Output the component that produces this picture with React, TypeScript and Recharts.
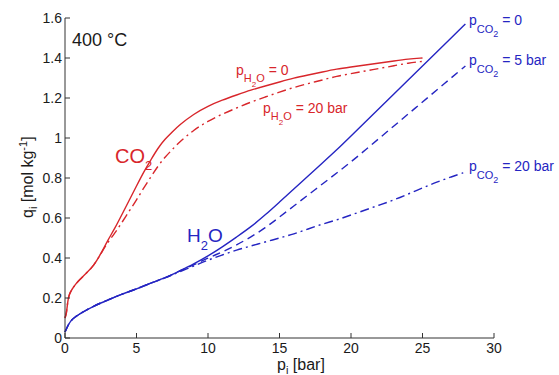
import React from "react";
import { LineChart, Line, XAxis, YAxis } from "recharts";

const RED = "#d8262b";
const BLUE = "#2525c2";
const AXIS = "#333333";
const INK = "#1a1a1a";
const FONT = "'Liberation Sans', Arial, Helvetica, sans-serif";

const xTicks = [0, 5, 10, 15, 20, 25, 30];
const yTicks = [0, 0.2, 0.4, 0.6, 0.8, 1, 1.2, 1.4, 1.6];

// CO2 uptake, p_H2O = 0 (solid) and p_H2O = 20 bar (dash-dot)
const co2Pressure = [0, 0.1, 0.2, 0.3, 0.5, 0.75, 1, 1.5, 2, 2.5, 3, 3.5, 4, 4.5, 5, 5.5, 6, 6.5, 7, 7.5, 8, 9, 10, 11, 12, 13, 14, 15, 16, 17, 18, 19, 20, 21, 22, 23, 24, 25];
const co2Dry = [0.1, 0.12, 0.19, 0.22, 0.245, 0.27, 0.29, 0.325, 0.36, 0.42, 0.49, 0.55, 0.62, 0.69, 0.76, 0.83, 0.89, 0.95, 0.995, 1.03, 1.065, 1.12, 1.16, 1.19, 1.215, 1.24, 1.26, 1.28, 1.3, 1.315, 1.33, 1.345, 1.355, 1.365, 1.375, 1.385, 1.395, 1.4];
const co2Wet = [0.1, 0.12, 0.19, 0.22, 0.245, 0.27, 0.29, 0.325, 0.36, 0.42, 0.48, 0.525, 0.58, 0.635, 0.69, 0.75, 0.805, 0.86, 0.905, 0.942, 0.98, 1.04, 1.085, 1.12, 1.15, 1.18, 1.205, 1.23, 1.253, 1.272, 1.29, 1.309, 1.322, 1.335, 1.348, 1.361, 1.375, 1.383];

// H2O uptake, p_CO2 = 0 / 5 bar / 20 bar
const h2oPressure = [0, 0.25, 0.5, 1, 2, 3, 4, 5, 6, 7, 8, 9, 10, 11, 12, 13, 14, 15, 16, 17, 18, 19, 20, 21, 22, 23, 24, 25, 26, 27, 28];
const h2oDry = [0.03, 0.07, 0.095, 0.12, 0.16, 0.19, 0.22, 0.245, 0.275, 0.3, 0.335, 0.37, 0.41, 0.455, 0.505, 0.555, 0.615, 0.68, 0.745, 0.81, 0.875, 0.94, 1.01, 1.08, 1.15, 1.22, 1.29, 1.36, 1.43, 1.5, 1.57];
const h2oCo2Five = [0.03, 0.07, 0.095, 0.12, 0.16, 0.19, 0.22, 0.245, 0.275, 0.3, 0.335, 0.365, 0.4, 0.43, 0.465, 0.505, 0.55, 0.605, 0.66, 0.715, 0.77, 0.825, 0.88, 0.94, 1.0, 1.06, 1.12, 1.18, 1.24, 1.3, 1.36];
const h2oCo2Twenty = [0.03, 0.07, 0.095, 0.12, 0.16, 0.19, 0.22, 0.245, 0.275, 0.3, 0.33, 0.36, 0.39, 0.415, 0.44, 0.46, 0.48, 0.5, 0.52, 0.545, 0.57, 0.59, 0.615, 0.64, 0.665, 0.69, 0.72, 0.75, 0.78, 0.805, 0.83];

const rows = (xs: number[], ys: number[]) => xs.map((p, i) => ({ p, q: ys[i] }));

const DASH = "8 5";
const DASH_DOT = "9 4 2 4";

// ticks point into the plot box, like the matlab original
function BottomTick({ x, y, payload }: any) {
  return (
    <g>
      <line x1={x} x2={x} y1={y} y2={y - 5} stroke={AXIS} />
      <text x={x} y={y + 15} textAnchor="middle" fontSize={14} fill={INK} fontFamily={FONT}>
        {payload.value}
      </text>
    </g>
  );
}

function LeftTick({ x, y, payload }: any) {
  return (
    <g>
      <line x1={x} x2={x + 5} y1={y} y2={y} stroke={AXIS} />
      <text x={x - 3} y={y + 5} textAnchor="end" fontSize={14} fill={INK} fontFamily={FONT}>
        {payload.value}
      </text>
    </g>
  );
}

function TopTick({ x, y }: any) {
  return <line x1={x} x2={x} y1={y} y2={y + 5} stroke={AXIS} />;
}

function RightTick({ x, y }: any) {
  return <line x1={x} x2={x - 5} y1={y} y2={y} stroke={AXIS} />;
}

function PressureLabel({ x, y, color, gas, rest }: any) {
  const sub = gas === "H2O" ? (
    <>
      <tspan dy={7} fontSize={11}>H</tspan>
      <tspan dy={5} fontSize={8}>2</tspan>
      <tspan dy={-5} fontSize={11}>O</tspan>
      <tspan dy={-7} fontSize={14}>{" " + rest}</tspan>
    </>
  ) : (
    <>
      <tspan dy={8} fontSize={11}>CO</tspan>
      <tspan dy={4} fontSize={9}>2</tspan>
      <tspan dy={-12} fontSize={14}>{" " + rest}</tspan>
    </>
  );
  return (
    <text x={x} y={y} fontSize={14} fill={color}>
      p{sub}
    </text>
  );
}

export default function App() {
  return (
    <div style={{ position: "absolute", left: 0, top: 0, width: 559, height: 375, background: "#fff" }}>
      <LineChart width={559} height={375} data={rows(co2Pressure, co2Dry)} margin={{ top: 18, right: 65, bottom: 17, left: 25 }}>
        <XAxis
          dataKey="p"
          type="number"
          domain={[0, 30]}
          ticks={xTicks}
          height={20}
          tickSize={0}
          tickMargin={0}
          tickLine={false}
          axisLine={{ stroke: AXIS }}
          tick={<BottomTick />}
          interval={0}
        />
        <XAxis
          xAxisId="top"
          orientation="top"
          dataKey="p"
          type="number"
          domain={[0, 30]}
          ticks={xTicks}
          height={0}
          tickSize={0}
          tickMargin={0}
          tickLine={false}
          axisLine={{ stroke: AXIS }}
          tick={<TopTick />}
          interval={0}
        />
        <YAxis
          type="number"
          domain={[0, 1.6]}
          ticks={yTicks}
          width={40}
          tickSize={0}
          tickMargin={0}
          tickLine={false}
          axisLine={{ stroke: AXIS }}
          tick={<LeftTick />}
          interval={0}
        />
        <YAxis
          yAxisId="right"
          orientation="right"
          type="number"
          domain={[0, 1.6]}
          ticks={yTicks}
          width={0}
          tickSize={0}
          tickMargin={0}
          tickLine={false}
          axisLine={{ stroke: AXIS }}
          tick={<RightTick />}
          interval={0}
        />
        <Line data={rows(h2oPressure, h2oCo2Twenty)} dataKey="q" type="basis" stroke={BLUE} strokeWidth={1.4} strokeDasharray={DASH_DOT} dot={false} isAnimationActive={false} />
        <Line data={rows(h2oPressure, h2oCo2Five)} dataKey="q" type="basis" stroke={BLUE} strokeWidth={1.4} strokeDasharray={DASH} dot={false} isAnimationActive={false} />
        <Line data={rows(h2oPressure, h2oDry)} dataKey="q" type="basis" stroke={BLUE} strokeWidth={1.4} dot={false} isAnimationActive={false} />
        <Line data={rows(co2Pressure, co2Wet)} dataKey="q" type="basis" stroke={RED} strokeWidth={1.4} strokeDasharray={DASH_DOT} dot={false} isAnimationActive={false} />
        <Line data={rows(co2Pressure, co2Dry)} dataKey="q" type="basis" stroke={RED} strokeWidth={1.4} dot={false} isAnimationActive={false} />
      </LineChart>

      <svg width={559} height={375} style={{ position: "absolute", left: 0, top: 0, pointerEvents: "none" }} fontFamily={FONT}>
        <text x={72} y={46} fontSize={18} fill={INK}>400 °C</text>
        <text x={115} y={163} fontSize={20} fill={RED}>
          CO<tspan dy={7} fontSize={13}>2</tspan>
        </text>
        <text x={187} y={242} fontSize={19} fill={BLUE}>
          H<tspan dy={8} fontSize={13}>2</tspan>
          <tspan dy={-8} fontSize={19}>O</tspan>
        </text>
        <PressureLabel x={236} y={75} color={RED} gas="H2O" rest="= 0" />
        <PressureLabel x={263} y={113} color={RED} gas="H2O" rest="= 20 bar" />
        <PressureLabel x={469} y={25} color={BLUE} gas="CO2" rest="= 0" />
        <PressureLabel x={469} y={65} color={BLUE} gas="CO2" rest="= 5 bar" />
        <PressureLabel x={469} y={171} color={BLUE} gas="CO2" rest="= 20 bar" />
        <text x={277} y={370} fontSize={16} fill={INK}>
          p<tspan dy={4} fontSize={11}>i</tspan>
          <tspan dy={-4}> [bar]</tspan>
        </text>
        <text transform="rotate(-90)" x={-218} y={33} fontSize={16} fill={INK}>
          q<tspan dy={4} fontSize={11}>i</tspan>
          <tspan dy={-4}> [mol kg</tspan>
          <tspan dy={-6} fontSize={11}>-1</tspan>
          <tspan dy={6}>]</tspan>
        </text>
      </svg>
    </div>
  );
}
